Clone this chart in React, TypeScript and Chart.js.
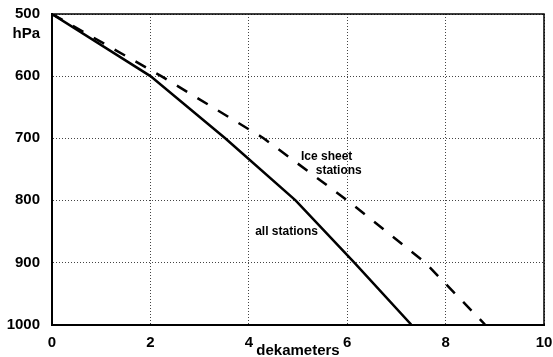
import React, { useEffect, useRef } from "react";
import { Chart, registerables } from "chart.js";

Chart.register(...registerables);

// Solid curve: all stations (height in dekameters vs pressure hPa)
const allHeights = [0, 2, 3.52, 4.95, 6.14, 7.3];
const allPressures = [500, 600, 700, 800, 900, 1000];

// Dashed curve: ice sheet stations
const iceHeights = [0, 2.22, 4.3, 6.0, 7.58, 8.8];
const icePressures = [500, 600, 700, 800, 900, 1000];

const xTicks = [0, 2, 4, 6, 8, 10];
const yTicks = [500, 600, 700, 800, 900, 1000];

const annotations = [
  { text: "Ice sheet", x: 5.06, y: 735 },
  { text: "stations", x: 5.36, y: 757 },
  { text: "all stations", x: 4.13, y: 856 },
];

const FONT = "'Liberation Sans', Arial, Helvetica, sans-serif";

const framePlugin = {
  id: "frameAndText",
  afterDraw(chart: any) {
    const { ctx, chartArea, scales } = chart;
    ctx.save();
    ctx.strokeStyle = "#000";
    ctx.lineWidth = 1.5;
    ctx.beginPath();
    ctx.moveTo(chartArea.left, chartArea.top);
    ctx.lineTo(chartArea.right, chartArea.top);
    ctx.lineTo(chartArea.right, chartArea.bottom);
    ctx.stroke();
    ctx.fillStyle = "#000";
    ctx.font = `bold 12px ${FONT}`;
    ctx.textAlign = "left";
    ctx.textBaseline = "alphabetic";
    for (const a of annotations) {
      ctx.fillText(a.text, scales.x.getPixelForValue(a.x), scales.y.getPixelForValue(a.y));
    }
    // unit label under the top y tick
    ctx.font = `bold 15px ${FONT}`;
    ctx.textAlign = "right";
    ctx.fillText("hPa", 40, 38);
    ctx.restore();
  },
};

export default function App() {
  const ref = useRef<HTMLCanvasElement>(null);
  useEffect(() => {
    if (!ref.current) return;
    const chart = new Chart(ref.current, {
      type: "line",
      data: {
        datasets: [
          {
            label: "all stations",
            data: allHeights.map((h, i) => ({ x: h, y: allPressures[i] })),
            borderColor: "#000",
            borderWidth: 2.5,
            pointRadius: 0,
            tension: 0,
            fill: false,
          },
          {
            label: "Ice sheet stations",
            data: iceHeights.map((h, i) => ({ x: h, y: icePressures[i] })),
            borderColor: "#000",
            borderWidth: 2.5,
            borderDash: [12, 12],
            pointRadius: 0,
            tension: 0,
            fill: false,
          },
        ],
      },
      options: {
        animation: false,
        responsive: false,
        devicePixelRatio: 1,
        layout: { padding: { top: 14, right: 9, left: 0, bottom: 0 } },
        plugins: { legend: { display: false }, tooltip: { enabled: false } },
        scales: {
          x: {
            type: "linear",
            min: 0,
            max: 10,
            afterBuildTicks: (s: any) => {
              s.ticks = xTicks.map((v) => ({ value: v }));
            },
            afterFit: (s: any) => {
              s.height = 32.5;
            },
            grid: { color: "#444", lineWidth: 1, drawTicks: true, tickLength: 9, tickColor: "rgba(0,0,0,0)" },
            border: { display: true, color: "#000", width: 2, dash: [1, 2] },
            ticks: {
              color: "#000",
              padding: 0,
              font: { family: FONT, size: 15, weight: "bold" },
              callback: (v: any) => String(v),
            },
            title: {
              display: true,
              text: "dekameters",
              color: "#000",
              font: { family: FONT, size: 15, weight: "bold", lineHeight: 1 },
              padding: { top: 0, bottom: -1 },
            },
          },
          y: {
            type: "linear",
            reverse: true,
            min: 500,
            max: 1000,
            afterBuildTicks: (s: any) => {
              s.ticks = yTicks.map((v) => ({ value: v }));
            },
            afterFit: (s: any) => {
              s.width = 52;
            },
            grid: { color: "#444", lineWidth: 1, drawTicks: true, tickLength: 12, tickColor: "rgba(0,0,0,0)" },
            border: { display: true, color: "#000", width: 2, dash: [1, 2] },
            ticks: {
              color: "#000",
              padding: 0,
              font: { family: FONT, size: 15, weight: "bold" },
              callback: (v: any) => String(v),
            },
          },
        },
      },
      plugins: [framePlugin],
    } as any);
    return () => chart.destroy();
  }, []);
  return (
    <div style={{ position: "fixed", left: 0, top: 0, width: 553, height: 357, background: "#fff" }}>
      <canvas ref={ref} width={553} height={357} style={{ width: 553, height: 357 }} />
    </div>
  );
}
